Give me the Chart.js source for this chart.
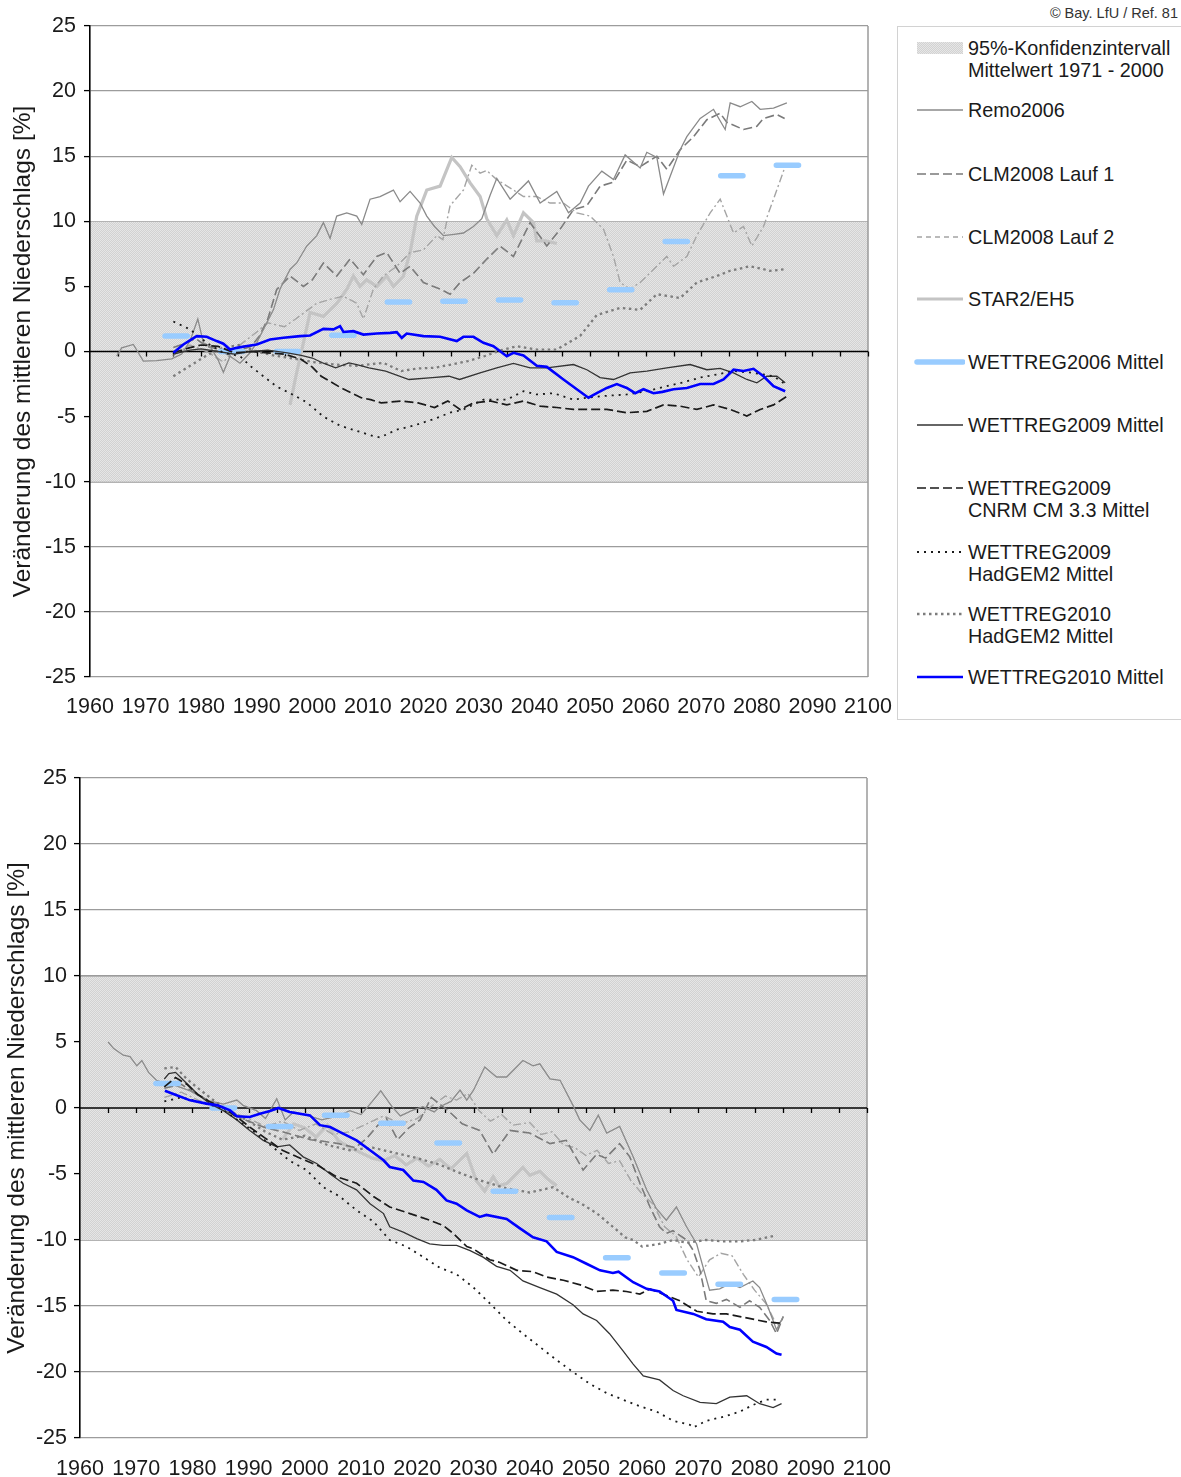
<!DOCTYPE html>
<html><head><meta charset="utf-8">
<script src="https://cdn.jsdelivr.net/npm/chart.js@4.4.1/dist/chart.umd.min.js"></script>
<style>
html,body{margin:0;padding:0;background:#fff;}
body{width:1181px;height:1477px;position:relative;overflow:hidden;font-family:"Liberation Sans",Arial,sans-serif;color:#1a1a1a;}
#w1{position:absolute;left:0;top:0;width:895px;height:720px;}
#w2{position:absolute;left:0;top:740px;width:895px;height:737px;}
#legend{position:absolute;left:897px;top:26px;width:290px;height:694px;border:1px solid #d2d2d2;box-sizing:border-box;}
.lt{position:absolute;left:968px;font-size:19.8px;line-height:22px;white-space:nowrap;}
.ls{position:absolute;left:913px;}
#copy{position:absolute;right:3px;top:5px;font-size:14.5px;color:#333;}
</style></head>
<body>
<div id="w1"><canvas id="c1" width="895" height="720"></canvas></div>
<div id="w2"><canvas id="c2" width="895" height="737"></canvas></div>
<div id="legend"></div>
<div id="copy">© Bay. LfU / Ref. 81</div>
<script>
// ================= DATA =================
const xTickYears = [1960,1970,1980,1990,2000,2010,2020,2030,2040,2050,2060,2070,2080,2090,2100];
const yTickValues = [-25,-20,-15,-10,-5,0,5,10,15,20,25];
const bandLimits = [-10, 10];
const wt06Decades = [1975,1985,1995,2005,2015,2025,2035,2045,2055,2065,2075,2085];
const wt06Top    = [1.2,0,0,1.25,3.8,3.85,3.95,3.75,4.75,8.45,13.5,14.3];
const wt06Bottom = [1.85,0,-1.4,-0.55,-1.15,-2.65,-6.3,-8.3,-11.35,-12.5,-13.35,-14.5];

// ---- top panel ----
const remoTop = [[1964.8,-0.36],[1965.7,0.28],[1967.8,0.54],[1969.6,-0.74],[1972,-0.7],[1974.7,-0.56],[1976.5,-0.2],[1978,0.8],[1979.4,2.5],[1980.4,0.67],[1981.6,0.4],[1983,-0.6],[1984,-1.6],[1985.2,-0.36],[1987,-0.9],[1988.8,-0.1],[1990,0.67],[1991.8,2.2],[1993,3.2],[1994.2,4.8],[1996,6.3],[1997.2,6.8],[1999,8.1],[2000.8,8.9],[2002,9.9],[2003.2,8.7],[2004.4,10.4],[2006.2,10.65],[2008,10.4],[2008.9,9.75],[2010.4,11.7],[2012.2,11.9],[2014.6,12.4],[2015.8,11.5],[2017.6,12.3],[2019.4,11.4],[2020.6,10.4],[2022,9.6],[2023.6,8.9],[2025.5,9.0],[2027.2,9.1],[2029,9.6],[2030.5,10.2],[2032,12.0],[2033.2,13.3],[2035.6,11.7],[2038.9,13.1],[2041,11.4],[2044,12.3],[2046.1,10.65],[2048.2,11.4],[2049.7,12.7],[2052.1,13.85],[2054.2,13.2],[2056.3,15.1],[2059,14.1],[2060.2,15.3],[2062,14.9],[2063.2,12.1],[2066.2,15.5],[2067.4,16.5],[2069.8,17.9],[2072.2,18.6],[2074.3,17.05],[2075.2,19.1],[2077,18.8],[2079.1,19.2],[2080.6,18.6],[2083,18.7],[2085.4,19.1]];
const lauf1Top = [[1975,0.3],[1977,0.6],[1979,1.0],[1981,0.4],[1983,0.2],[1985,-0.3],[1987,0.1],[1989,0.4],[1990.5,1.2],[1992,2.5],[1993.6,4.76],[1996,5.8],[1998.4,5.0],[2000,5.5],[2002,6.8],[2004.4,5.8],[2006.8,7.1],[2009.2,5.9],[2011.6,7.3],[2013.4,7.6],[2015.8,6.0],[2017.6,6.55],[2020,5.3],[2023,4.8],[2024.8,4.4],[2026.6,5.3],[2029,6.0],[2031.4,7.1],[2033.8,8.1],[2036.2,7.3],[2039.2,9.9],[2042.2,8.1],[2044.6,9.4],[2047,10.9],[2049.4,11.2],[2051.8,12.7],[2054.2,13.0],[2056.6,14.7],[2059,14.2],[2062,15.0],[2063.8,14.0],[2066.2,15.5],[2068.6,16.5],[2071,17.8],[2073.4,18.3],[2074.6,17.6],[2077.6,17.05],[2080,17.3],[2081.2,17.9],[2083.6,18.2],[2085,17.9]];
const lauf2Top = [[1975,-0.3],[1978,0.5],[1981,0.0],[1984,-0.8],[1987,0.5],[1990,1.5],[1992,2.2],[1995,1.9],[1997,2.5],[2000.8,3.7],[2003.2,4.0],[2005.6,4.25],[2008,3.7],[2009.2,2.5],[2011,4.8],[2012.8,5.8],[2015.2,6.55],[2017.6,7.6],[2020,7.8],[2022.4,8.9],[2023.5,8.6],[2024.8,11.2],[2027.2,12.4],[2028.7,14.3],[2030.2,13.7],[2031.4,13.9],[2033.2,13.2],[2036.2,12.4],[2038,11.9],[2040.4,11.9],[2042.8,11.4],[2045.2,11.4],[2047.6,10.65],[2050,10.4],[2052.4,9.4],[2054.2,7.3],[2055.4,5.3],[2057.2,4.8],[2059,5.3],[2061.4,6.3],[2063.8,7.3],[2065,6.55],[2067.4,7.3],[2069.2,8.9],[2071.6,10.65],[2073.4,11.7],[2074.6,10.4],[2075.8,9.1],[2077.6,9.6],[2079.1,8.1],[2081.2,9.6],[2083,11.7],[2085,14.1]];
const starTop = [[1996,-4.1],[1997,-2.0],[1998.4,0.67],[1999.6,3.0],[2002,2.7],[2004.4,3.7],[2006.2,4.76],[2007.4,5.8],[2008.6,5.0],[2009.8,5.5],[2011.6,5.0],[2013.4,5.8],[2014.6,5.0],[2016.4,5.8],[2017.6,7.6],[2018.8,10.4],[2020.6,12.4],[2023,12.7],[2025.1,14.9],[2026.6,14.2],[2028.4,12.95],[2030.2,11.9],[2031.4,10.2],[2033.2,8.9],[2035,10.1],[2036.2,8.9],[2038,10.65],[2039.8,9.9],[2040.4,8.5],[2042,8.5],[2044,8.3]];
const wt09Top = [[1975,-0.2],[1978,0.1],[1980,0.2],[1983,0.0],[1986,-0.2],[1989,0.0],[1992,0.1],[1995.5,-0.1],[1998,-0.3],[2000,-0.5],[2002,-0.9],[2004.2,-1.25],[2006.6,-0.87],[2008,-1.0],[2010.2,-1.25],[2013.2,-1.5],[2017.4,-2.15],[2021.6,-2.0],[2024.6,-1.9],[2026.5,-2.15],[2030.2,-1.64],[2033.2,-1.25],[2036.2,-0.92],[2039.2,-1.25],[2042.2,-1.25],[2047,-1.0],[2049.4,-1.4],[2051.8,-2.0],[2054.2,-2.15],[2057.2,-1.64],[2060.2,-1.5],[2063.8,-1.25],[2068,-1.0],[2071,-1.4],[2073.4,-1.3],[2075.8,-1.64],[2078.2,-2.15],[2080,-2.4],[2081.8,-1.9],[2083.6,-1.9],[2085.1,-2.4]];
const cnrmTop = [[1975,-0.1],[1978,0.3],[1980,0.5],[1983,0.4],[1986,-0.1],[1989,0.0],[1992,-0.1],[1995,-0.2],[1998,-0.6],[2000,-1.2],[2001.6,-1.9],[2005.2,-2.8],[2008.8,-3.55],[2010.5,-3.7],[2012.4,-3.95],[2016,-3.8],[2019,-3.95],[2022,-4.3],[2024.4,-3.8],[2026.6,-4.45],[2029,-3.95],[2032,-3.8],[2035,-4.1],[2038,-3.8],[2041,-4.2],[2044,-4.3],[2047,-4.45],[2050,-4.45],[2053,-4.45],[2056.6,-4.7],[2060.2,-4.6],[2063.2,-4.1],[2066.2,-4.2],[2069.2,-4.45],[2072.2,-4.1],[2075.2,-4.45],[2078.2,-4.95],[2080.6,-4.45],[2083,-4.1],[2085.4,-3.45]];
const had09Top = [[1975,2.3],[1978,1.7],[1981,0.67],[1984,-0.1],[1987,-0.36],[1988.8,-1.1],[1991.2,-1.9],[1993.6,-2.7],[1996,-3.2],[1999,-3.9],[2002,-5.0],[2005,-5.7],[2008,-6.1],[2011,-6.5],[2012.2,-6.6],[2015.2,-6.0],[2018.2,-5.7],[2021.8,-5.2],[2024.8,-4.7],[2027.2,-4.45],[2030.8,-3.7],[2035,-3.7],[2038,-3.05],[2040.4,-3.3],[2043.4,-3.2],[2047,-3.7],[2049.4,-3.55],[2053,-3.4],[2056.6,-3.3],[2060.2,-3.05],[2063.8,-2.66],[2066.5,-2.4],[2069.8,-2.0],[2072.8,-1.77],[2075.8,-1.5],[2079.4,-1.64],[2083,-1.9],[2085.4,-2.6]];
const had10Top = [[1975,-1.9],[1978,-1.1],[1981,-0.3],[1984,0.3],[1987,0.5],[1990,0.0],[1993,-0.3],[1996,-0.5],[2000,-0.8],[2004,-1.0],[2008,-1.1],[2012.8,-0.87],[2016,-1.5],[2019,-1.3],[2022,-1.25],[2025,-1.0],[2028,-0.74],[2031,-0.36],[2034,0.1],[2036.8,0.4],[2040.4,0.15],[2044,0.15],[2048.2,1.2],[2051.2,2.8],[2055.4,3.35],[2059,3.2],[2062,4.4],[2066.2,4.1],[2069.2,5.3],[2072.8,5.8],[2075.2,6.2],[2078.8,6.55],[2082.4,6.2],[2084.8,6.3]];
const wt10Top = [[1975,-0.1],[1976.8,0.54],[1979.2,1.18],[1981,1.13],[1982.8,0.8],[1984,0.6],[1985.2,0.15],[1986.4,0.28],[1988,0.4],[1990,0.54],[1992.4,0.92],[1994.8,1.05],[1997.8,1.18],[1999.6,1.23],[2002,1.74],[2003.8,1.7],[2005,1.95],[2005.6,1.5],[2007.4,1.56],[2009.2,1.3],[2011.6,1.38],[2014,1.43],[2015.2,1.48],[2016.1,1.05],[2017,1.38],[2020,1.18],[2023,1.13],[2026,0.8],[2027.2,1.13],[2029,1.13],[2030.8,0.67],[2032.6,0.41],[2035,-0.36],[2036.2,-0.1],[2038,-0.3],[2040.4,-1.1],[2042.2,-1.18],[2045.2,-2.15],[2047.6,-2.9],[2049.7,-3.55],[2051.2,-3.2],[2053,-2.8],[2054.8,-2.5],[2056.6,-2.8],[2058.1,-3.2],[2059.6,-2.9],[2061.4,-3.2],[2063,-3.1],[2065,-2.9],[2067.4,-2.8],[2069.8,-2.5],[2072.2,-2.5],[2074,-2.15],[2075.8,-1.4],[2077.6,-1.5],[2079.4,-1.33],[2081.2,-1.9],[2083,-2.66],[2085.1,-3.05]];

// ---- bottom panel ----
const remoBot = [[1965,5.0],[1966,4.5],[1967.7,4.0],[1968.9,3.9],[1970.1,3.2],[1971,3.6],[1972.2,2.7],[1973.6,2.1],[1975,1.9],[1977,1.7],[1979.6,1.3],[1982.5,0.6],[1985.5,0.3],[1987.9,0.6],[1989,0.2],[1991.4,-0.2],[1993,-0.8],[1995,0.7],[1996.5,-0.9],[1998,-0.3],[2000,-0.5],[2003,-0.9],[2006,-0.6],[2008,-0.2],[2010,-0.5],[2012,0.5],[2013.5,1.3],[2015.5,0.1],[2017,-0.6],[2019,-0.2],[2021,0.1],[2023,-0.3],[2024,0.1],[2026,0.5],[2027.6,1.35],[2028.8,0.6],[2030,1.35],[2032,3.1],[2034.1,2.35],[2035.9,2.35],[2038.8,3.6],[2040.6,3.2],[2041.8,3.35],[2043.6,2.2],[2045.4,2.1],[2047.7,0.2],[2048.9,-0.9],[2050.7,-1.7],[2052.2,-0.55],[2053.7,-1.9],[2056,-1.4],[2058.4,-3.7],[2060.8,-6.2],[2062.5,-7.6],[2064.3,-8.5],[2066.1,-7.5],[2067.9,-9.0],[2069.7,-10.3],[2070.8,-12.0],[2072,-13.8],[2073.8,-13.7],[2075.6,-13.3],[2077.4,-13.6],[2079.7,-13.1],[2080.9,-13.6],[2082.4,-15.1],[2083.9,-16.8],[2085.1,-15.8]];
const lauf1Bot = [[1975,1.5],[1978,1.8],[1981,1.0],[1984,0.3],[1987,-0.5],[1990,-1.0],[1993,-1.5],[1996,-1.8],[1998.5,-2.1],[2001,-2.4],[2003,-2.5],[2006,-2.7],[2009,-3.0],[2011,-2.3],[2013,-1.3],[2014.5,-0.8],[2016.5,-2.4],[2018.5,-1.5],[2020.5,-0.9],[2022.5,0.8],[2024,0.3],[2026,-0.4],[2028,-1.2],[2031.1,-1.7],[2033.5,-3.5],[2036.5,-1.7],[2040,-1.9],[2043.6,-2.7],[2046.5,-2.45],[2049.5,-4.7],[2051.9,-3.5],[2053.5,-3.8],[2056,-2.7],[2057.8,-3.7],[2059.6,-5.7],[2061.4,-7.5],[2063.1,-9.0],[2064.3,-9.5],[2065.5,-9.3],[2067.9,-10.0],[2069.1,-10.8],[2070.3,-12.3],[2071.4,-14.6],[2073.2,-14.8],[2075,-14.5],[2077.4,-15.1],[2079.1,-14.6],[2080.9,-15.1],[2082.7,-16.1],[2083.9,-17.1],[2085.1,-15.8]];
const lauf2Bot = [[1975,0.8],[1978,1.2],[1981,0.6],[1984,0.2],[1987,-0.3],[1990,-0.8],[1993,-1.4],[1996,-1.0],[1999,-1.7],[2002,-1.2],[2005,-2.0],[2008,-1.8],[2011,-1.2],[2014,-0.6],[2017,-1.2],[2020,-0.8],[2023,0.3],[2025,0.9],[2027,0.6],[2029,1.1],[2031,-0.2],[2033,-1.0],[2035,-0.5],[2037,-1.3],[2040,-1.1],[2042,-2.0],[2044,-1.8],[2046,-2.8],[2048,-3.0],[2050,-3.6],[2052,-3.2],[2054,-4.2],[2056,-4.0],[2058,-5.5],[2060,-6.5],[2062,-7.3],[2064,-9.0],[2066,-9.7],[2068,-11.5],[2070,-12.8],[2072,-11.5],[2074,-11.0],[2076,-11.2],[2078,-12.6],[2080,-13.8],[2082,-14.8],[2084,-16.5],[2085,-16.0]];
const starBot = [[1996,-2.4],[1998,-1.2],[2000,-1.5],[2002,-2.2],[2004,-1.3],[2006,-2.5],[2008,-3.0],[2010,-3.4],[2012,-3.8],[2014,-4.0],[2016,-3.6],[2018,-4.3],[2020,-3.8],[2022,-4.4],[2024,-3.9],[2026,-4.6],[2028.8,-3.45],[2030.5,-5.5],[2032,-6.3],[2033.5,-5.2],[2034.5,-5.9],[2036,-5.7],[2038.8,-4.5],[2040,-5.1],[2041.8,-4.8],[2043,-5.3],[2044.8,-5.9]];
const wt09Bot = [[1975,2.2],[1975.8,2.6],[1977,2.7],[1978.4,2.1],[1980.8,1.1],[1983.1,0.33],[1985.5,-0.2],[1987.9,-0.9],[1990.2,-1.7],[1992.6,-2.45],[1995,-2.95],[1997.3,-2.8],[1999.7,-3.7],[2002.1,-4.2],[2004.5,-5.0],[2006.8,-5.7],[2009.2,-6.2],[2011.6,-7.25],[2014,-8.0],[2015.1,-9.0],[2017.5,-9.4],[2019.9,-9.9],[2022.2,-10.3],[2024.6,-10.4],[2027,-10.4],[2029.4,-10.8],[2031.7,-11.3],[2034.1,-12.0],[2036.5,-12.3],[2038.8,-13.1],[2041.8,-13.6],[2044.8,-14.1],[2047.7,-14.9],[2049.5,-15.6],[2051.9,-16.1],[2054.2,-17.1],[2056.6,-18.4],[2058.4,-19.4],[2060.2,-20.3],[2063.1,-20.6],[2065.5,-21.4],[2067.3,-21.8],[2070.3,-22.3],[2073.2,-22.4],[2075.6,-21.9],[2078.6,-21.8],[2080.9,-22.4],[2083.3,-22.7],[2084.8,-22.4]];
const cnrmBot = [[1975,1.6],[1977,2.3],[1979,1.8],[1981,1.0],[1983,0.5],[1985.5,0.0],[1988,-0.7],[1990.2,-1.45],[1993,-2.3],[1996,-3.2],[1999.7,-3.9],[2002.5,-4.4],[2005.6,-5.2],[2009.2,-5.7],[2012.2,-6.7],[2015.1,-7.5],[2018.7,-8.0],[2022.2,-8.5],[2024.6,-8.9],[2026.4,-9.5],[2028.8,-10.5],[2029.9,-10.65],[2032.9,-11.5],[2034.7,-11.7],[2037.7,-12.3],[2040.6,-12.4],[2043,-12.8],[2046,-13.05],[2049,-13.4],[2051.9,-13.9],[2054.8,-13.8],[2057.2,-13.9],[2059.6,-14.1],[2061.4,-13.7],[2063.7,-14.1],[2066.7,-14.6],[2069.7,-15.4],[2072.6,-15.6],[2075,-15.6],[2077.4,-15.8],[2079.7,-16.0],[2082.1,-16.2],[2084.5,-16.3]];
const had09Bot = [[1975,0.5],[1978,0.8],[1981,0.5],[1985,0.0],[1988,-0.9],[1991,-1.8],[1993,-2.5],[1995,-3.2],[1997.3,-4.0],[2000.3,-4.7],[2003.3,-6.0],[2006.2,-6.7],[2009.2,-7.75],[2012.2,-8.6],[2015.1,-10.0],[2018.1,-10.5],[2021.1,-11.3],[2024,-12.1],[2027,-12.6],[2030,-13.6],[2032.9,-14.8],[2035.9,-16.1],[2038.8,-17.1],[2041.8,-18.1],[2044.8,-19.1],[2047.7,-20.0],[2050.7,-20.9],[2053.7,-21.6],[2056.6,-22.1],[2059.6,-22.6],[2062.6,-23.0],[2065.5,-23.7],[2068.5,-24.0],[2069.1,-24.2],[2071.4,-23.7],[2074.4,-23.4],[2077.4,-23.0],[2079.7,-22.5],[2082.1,-22.1],[2084.5,-22.1]];
const had10Bot = [[1975,3.0],[1977,3.1],[1979,2.2],[1981,1.5],[1984,0.5],[1987,-0.3],[1990,-1.0],[1993,-1.8],[1996,-2.4],[2000,-2.1],[2004,-2.8],[2008,-3.2],[2012,-3.0],[2016,-3.4],[2020,-3.8],[2024,-4.3],[2028,-5.0],[2032,-5.6],[2036,-6.1],[2040,-6.4],[2044.2,-6.0],[2047,-6.8],[2049,-7.2],[2052,-8.0],[2054.8,-9.0],[2057,-9.8],[2058.4,-10.0],[2060,-10.5],[2063,-10.3],[2065.5,-10.0],[2068,-10.2],[2071.4,-10.0],[2074,-10.1],[2077.4,-10.1],[2080,-10.0],[2083.9,-9.65]];
const wt10Bot = [[1975.1,1.3],[1977.2,0.96],[1979.6,0.58],[1982.5,0.33],[1984.5,0.2],[1986.7,-0.18],[1987.9,-0.63],[1990.2,-0.68],[1992,-0.43],[1993.8,-0.23],[1995.3,0],[1997.3,-0.3],[2000.9,-0.56],[2002.7,-1.3],[2004.5,-1.44],[2006.8,-1.94],[2009.2,-2.45],[2011.6,-3.2],[2014,-3.96],[2015.1,-4.47],[2017.5,-4.7],[2019.3,-5.5],[2021.1,-5.6],[2023.4,-6.2],[2025.2,-7.0],[2027,-7.25],[2028.8,-7.75],[2031.1,-8.25],[2032.3,-8.1],[2035.9,-8.4],[2038.2,-9.1],[2040.6,-9.8],[2043,-10.1],[2044.8,-10.9],[2047.7,-11.3],[2050.1,-11.8],[2052.5,-12.3],[2054.8,-12.5],[2055.8,-12.4],[2058.4,-13.2],[2060.8,-13.7],[2063.1,-13.9],[2065.5,-14.6],[2066.1,-15.3],[2069.1,-15.6],[2071.4,-16.0],[2074.4,-16.2],[2075.6,-16.6],[2077.4,-16.8],[2079.7,-17.7],[2082.1,-18.1],[2083.9,-18.6],[2084.8,-18.7]];

// ================= STYLES =================
const FONT = '"Liberation Sans", Arial, sans-serif';
const ST = {
  remo:  {borderColor:'#8a8a8a', borderWidth:1.3, order:7},
  lauf1: {borderColor:'#7a7a7a', borderWidth:1.6, borderDash:[9,4], order:8},
  lauf2: {borderColor:'#a4a4a4', borderWidth:1.4, borderDash:[8,3,2,3], order:9},
  star:  {borderColor:'#c4c4c4', borderWidth:3.2, order:10},
  wt06:  {borderColor:'#99ccff', borderWidth:5.5, borderCapStyle:'round', order:5},
  wt09:  {borderColor:'#333333', borderWidth:1.3, order:4},
  cnrm:  {borderColor:'#1a1a1a', borderWidth:1.7, borderDash:[9,4], order:3},
  had09: {borderColor:'#1a1a1a', borderWidth:1.8, borderDash:[2,5], order:2},
  had10: {borderColor:'#7c7c7c', borderWidth:2.3, borderDash:[2.5,3.5], order:6},
  wt10:  {borderColor:'#0000ff', borderWidth:2.6, order:1}
};

function pts(pairs){ return pairs.map(p => ({x:p[0], y:p[1]})); }
function bars(decades, vals){
  const out = [];
  decades.forEach((d,i) => { out.push({x:d-1.5,y:vals[i]},{x:d+2.5,y:vals[i]},{x:d+2.6,y:null}); });
  return out;
}
function ds(label, data, st){
  return Object.assign({label, data, pointRadius:0, pointHoverRadius:0, tension:0, fill:false, spanGaps:false}, st);
}
function bandPattern(){
  const pc = document.createElement('canvas'); pc.width = 2; pc.height = 2;
  const g = pc.getContext('2d');
  g.fillStyle = '#d2d2d2'; g.fillRect(0,0,2,2);
  g.fillStyle = '#e6e6e6'; g.fillRect(0,0,1,1); g.fillRect(1,1,1,1);
  return g.createPattern(pc,'repeat');
}

const decor = {
  id:'decor',
  afterDatasetDraw(chart, args){
    if (!chart.data.datasets[args.index].isBand) return;
    const {ctx, chartArea:a, scales:{x, y}} = chart;
    ctx.save();
    ctx.strokeStyle = '#b3b3b3'; ctx.lineWidth = 1;
    bandLimits.forEach(v => { const py = Math.round(y.getPixelForValue(v)) + 0.5; ctx.beginPath(); ctx.moveTo(a.left,py); ctx.lineTo(a.right,py); ctx.stroke(); });
    ctx.strokeStyle = '#9a9a9a'; ctx.lineWidth = 1.5;
    ctx.beginPath(); ctx.moveTo(a.right, a.top); ctx.lineTo(a.right, a.bottom); ctx.stroke();
    const y0 = y.getPixelForValue(0);
    ctx.strokeStyle = '#000'; ctx.lineWidth = 1.6;
    ctx.beginPath(); ctx.moveTo(a.left, y0); ctx.lineTo(a.right, y0); ctx.stroke();
    ctx.lineWidth = 1.3;
    for (let yr = 1965; yr <= 2100; yr += 5) {
      const px = Math.round(x.getPixelForValue(yr)) + 0.5;
      ctx.beginPath(); ctx.moveTo(px, y0); ctx.lineTo(px, y0 + 5); ctx.stroke();
    }
    ctx.restore();
  }
};

function makeChart(id, cfg){
  const ctx = document.getElementById(id).getContext('2d');
  const s = cfg.series;
  const datasets = [
    Object.assign(ds('95%-Konfidenzintervall', [{x:1960,y:bandLimits[1]},{x:2100,y:bandLimits[1]}], {borderWidth:0, order:100, fill:{value:bandLimits[0]}, backgroundColor:bandPattern()}), {isBand:true}),
    ds('Remo2006', pts(s.remo), ST.remo),
    ds('CLM2008 Lauf 1', pts(s.lauf1), ST.lauf1),
    ds('CLM2008 Lauf 2', pts(s.lauf2), ST.lauf2),
    ds('STAR2/EH5', pts(s.star), ST.star),
    ds('WETTREG2006 Mittel', bars(wt06Decades, s.wt06), ST.wt06),
    ds('WETTREG2009 Mittel', pts(s.wt09), ST.wt09),
    ds('WETTREG2009 CNRM CM 3.3 Mittel', pts(s.cnrm), ST.cnrm),
    ds('WETTREG2009 HadGEM2 Mittel', pts(s.had09), ST.had09),
    ds('WETTREG2010 HadGEM2 Mittel', pts(s.had10), ST.had10),
    ds('WETTREG2010 Mittel', pts(s.wt10), ST.wt10)
  ];
  return new Chart(ctx, {
    type:'line',
    data:{datasets},
    plugins:[decor],
    options:{
      responsive:false, animation:false, devicePixelRatio:1,
      layout:{padding:{top:cfg.padTop, right:cfg.padRight, left:0, bottom:0}},
      plugins:{legend:{display:false}, tooltip:{enabled:false}},
      scales:{
        x:{type:'linear', min:1960, max:2100,
           afterBuildTicks(sc){ sc.ticks = xTickYears.map(v => ({value:v})); },
           afterFit(sc){ sc.height = cfg.xH; sc.paddingLeft = 0; sc.paddingRight = 0; },
           grid:{display:false}, border:{display:false},
           ticks:{autoSkip:false, maxRotation:0, padding:cfg.xPad, color:'#1a1a1a', font:{family:FONT, size:21.5}, callback:v => String(v)}},
        y:{type:'linear', min:-25, max:25,
           afterBuildTicks(sc){ sc.ticks = yTickValues.map(v => ({value:v})); },
           afterFit(sc){ sc.width = cfg.yW; },
           grid:{color:'#9c9c9c', lineWidth:1.2, tickColor:'#000', tickLength:6, tickWidth:1.3},
           border:{display:true, color:'#000', width:1.6, z:1},
           ticks:{padding:cfg.yPad, color:'#1a1a1a', font:{family:FONT, size:21.5}, callback:v => String(v)},
           title:{display:true, text:'Veränderung des mittleren Niederschlags [%]', color:'#1a1a1a', font:{family:FONT, size:24.5}, padding:{top:cfg.titlePad, bottom:0}}}
      }
    }
  });
}

makeChart('c1', {padTop:26, padRight:27, xH:43, yW:90, yPad:8, xPad:9, titlePad:9,
  series:{remo:remoTop, lauf1:lauf1Top, lauf2:lauf2Top, star:starTop, wt06:wt06Top, wt09:wt09Top, cnrm:cnrmTop, had09:had09Top, had10:had10Top, wt10:wt10Top}});
makeChart('c2', {padTop:38, padRight:28, xH:39, yW:80, yPad:7, xPad:10, titlePad:3,
  series:{remo:remoBot, lauf1:lauf1Bot, lauf2:lauf2Bot, star:starBot, wt06:wt06Bottom, wt09:wt09Bot, cnrm:cnrmBot, had09:had09Bot, had10:had10Bot, wt10:wt10Bot}});

// ================= LEGEND (HTML) =================
const legendItems = [
  {lines:['95%-Konfidenzintervall','Mittelwert 1971 - 2000'], y:48, band:true},
  {lines:['Remo2006'], y:110, st:ST.remo},
  {lines:['CLM2008 Lauf 1'], y:174, st:ST.lauf1},
  {lines:['CLM2008 Lauf 2'], y:237, st:{borderColor:'#a4a4a4', borderWidth:1.4, borderDash:[5,4]}},
  {lines:['STAR2/EH5'], y:299, st:ST.star},
  {lines:['WETTREG2006 Mittel'], y:362, st:ST.wt06},
  {lines:['WETTREG2009 Mittel'], y:425, st:ST.wt09},
  {lines:['WETTREG2009','CNRM CM 3.3 Mittel'], y:488, st:ST.cnrm},
  {lines:['WETTREG2009','HadGEM2 Mittel'], y:552, st:ST.had09},
  {lines:['WETTREG2010','HadGEM2 Mittel'], y:614, st:ST.had10},
  {lines:['WETTREG2010 Mittel'], y:677, st:ST.wt10}
];
let html = '';
legendItems.forEach(it => {
  html += '<div class="lt" style="top:' + (it.y - 11) + 'px">' + it.lines.join('<br>') + '</div>';
  let svg;
  if (it.band) {
    svg = '<svg width="50" height="14"><defs><pattern id="pt" width="2" height="2" patternUnits="userSpaceOnUse"><rect width="2" height="2" fill="#d2d2d2"/><rect width="1" height="1" fill="#e6e6e6"/><rect x="1" y="1" width="1" height="1" fill="#e6e6e6"/></pattern></defs><rect x="4" y="1" width="46" height="12" fill="url(#pt)"/></svg>';
  } else {
    const s = it.st;
    const dash = s.borderDash ? ' stroke-dasharray="' + s.borderDash.join(',') + '"' : '';
    const cap = s.borderCapStyle === 'round' ? ' stroke-linecap="round"' : '';
    svg = '<svg width="52" height="14"><line x1="4" y1="7" x2="50" y2="7" stroke="' + s.borderColor + '" stroke-width="' + s.borderWidth + '"' + dash + cap + '/></svg>';
  }
  html += '<div class="ls" style="top:' + (it.y - 7) + 'px">' + svg + '</div>';
});
document.body.insertAdjacentHTML('beforeend', html);
</script>
</body></html>
